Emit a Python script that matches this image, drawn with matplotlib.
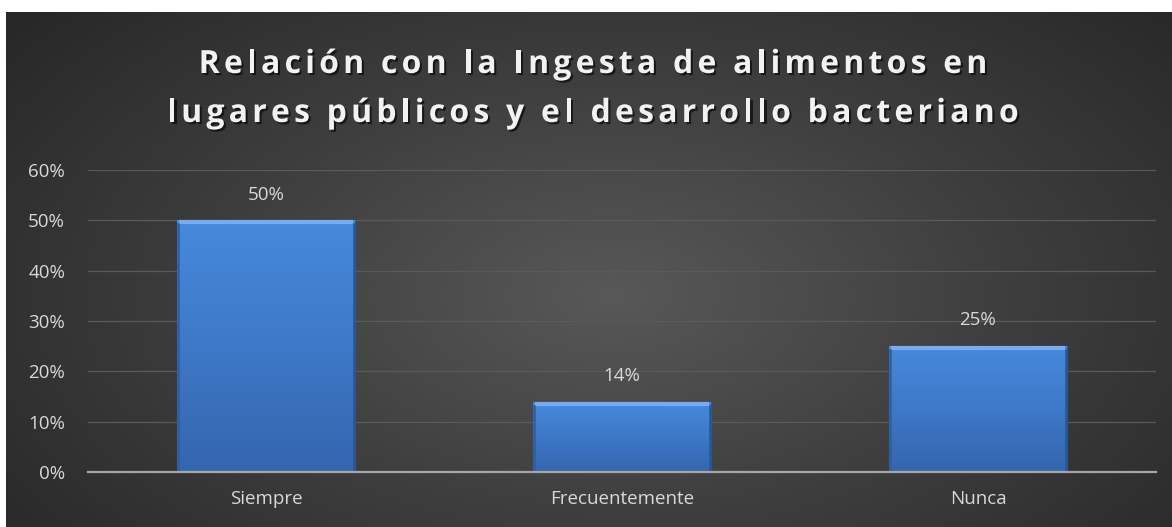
import numpy as np
import matplotlib
matplotlib.use('Agg')
import matplotlib.pyplot as plt
import matplotlib.patheffects as pe
from matplotlib.colors import LinearSegmentedColormap
from matplotlib.font_manager import FontProperties, findfont
from matplotlib.ft2font import FT2Font

categories = ['Siempre', 'Frecuentemente', 'Nunca']
values = [0.50, 0.14, 0.25]
value_labels = ['50%', '14%', '25%']
yticks = [0, 0.1, 0.2, 0.3, 0.4, 0.5, 0.6]
ytick_labels = ['0%', '10%', '20%', '30%', '40%', '50%', '60%']
title_lines = ['Relación con la Ingesta de alimentos en',
               'lugares públicos y el desarrollo bacteriano']

W, H = 1172, 527
fig = plt.figure(figsize=(W / 100, H / 100), dpi=100, facecolor='white')

# dark radial background of the chart area
bg = fig.add_axes([6 / W, 0, 1 - 6 / W, 1 - 12 / H])
bg.set_axis_off()
yy, xx = np.mgrid[0:1:300j, 0:1:600j]
r = np.sqrt(((xx - 0.52) / 0.75) ** 2 + ((yy - 0.55) / 0.95) ** 2)
bg_cmap = LinearSegmentedColormap.from_list('bg', ['#585858', '#3e3e3e', '#272727'])
bg.imshow(r, cmap=bg_cmap, aspect='auto', extent=[0, 1, 0, 1], vmin=0, vmax=0.9)
bg.set_xlim(0, 1)
bg.set_ylim(0, 1)

ax = fig.add_axes([88 / W, 55 / H, 1068 / W, 302 / H])
ax.patch.set_alpha(0)
x = np.arange(len(categories))
bars = ax.bar(x, values, width=0.5, color='#3f7cd0', edgecolor='#2a5a9e', linewidth=0.8, zorder=2)

bar_cmap = LinearSegmentedColormap.from_list('bar', ['#3466ad', '#3e78c8', '#4789dc'])
for b in bars:
    x0, y0 = b.get_x(), b.get_y()
    w, h = b.get_width(), b.get_height()
    grad = np.linspace(0, 1, 100).reshape(-1, 1)
    im = ax.imshow(grad, cmap=bar_cmap, aspect='auto', origin='lower',
                   extent=[x0, x0 + w, y0, y0 + h], zorder=2.1)
    im.set_clip_path(b)
    # bevel highlights
    ax.plot([x0 + 0.006, x0 + w - 0.006], [y0 + h - 0.004, y0 + h - 0.004],
            color='#7aaced', lw=3, zorder=2.3, solid_capstyle='butt')
    ax.plot([x0 + 0.004, x0 + 0.004], [y0 + 0.004, y0 + h - 0.008],
            color='#2f5e9f', lw=1.8, zorder=2.3)
    ax.plot([x0 + w - 0.004, x0 + w - 0.004], [y0 + 0.004, y0 + h - 0.008],
            color='#2a5590', lw=1.8, zorder=2.3)

for xi, v, lab in zip(x, values, value_labels):
    ax.annotate(lab, (xi, v), xytext=(0, 18.5), textcoords='offset points',
                ha='center', va='center', color='#d9d9d9', fontsize=13.5, family='Open Sans')

ax.set_xlim(-0.5, len(categories) - 0.5)
ax.set_ylim(0, 0.6)
ax.set_yticks(yticks)
ax.set_yticklabels(ytick_labels)
ax.set_xticks(x)
ax.set_xticklabels(categories)
ax.tick_params(axis='both', length=0, colors='#d9d9d9', labelsize=13.5)
ax.tick_params(axis='y', pad=16.5)
ax.tick_params(axis='x', pad=13)
for t in ax.get_xticklabels() + ax.get_yticklabels():
    t.set_family('Open Sans')
ax.grid(axis='y', color='#5a5a5a', lw=0.9, zorder=0)
for s in ['top', 'right', 'left']:
    ax.spines[s].set_visible(False)
ax.spines['bottom'].set_color('#a6a6a6')
ax.spines['bottom'].set_linewidth(1.6)
ax.spines['bottom'].set_zorder(3)

# title with letter spacing, drawn glyph by glyph
title_size = 23
spacing = 4.2
fp = FontProperties(family='Open Sans', weight='bold', size=title_size)
ft = FT2Font(findfont(fp))
ft.set_size(title_size, 100)
shadow = [pe.withSimplePatchShadow(offset=(1.5, -1.5), shadow_rgbFace='black', alpha=0.6)]
for line, base_y in zip(title_lines, [73, 122]):
    adv = [ft.load_char(ord(c)).linearHoriAdvance / 65536 for c in line]
    total = sum(adv) + spacing * (len(line) - 1)
    cx = 593 - total / 2
    for c, a in zip(line, adv):
        if c != ' ':
            fig.text(cx / W, 1 - base_y / H, c, ha='left', va='baseline', color='#f2f2f2',
                     fontproperties=fp, path_effects=shadow)
        cx += a + spacing

fig.savefig('out.png', dpi=100, facecolor='white')
